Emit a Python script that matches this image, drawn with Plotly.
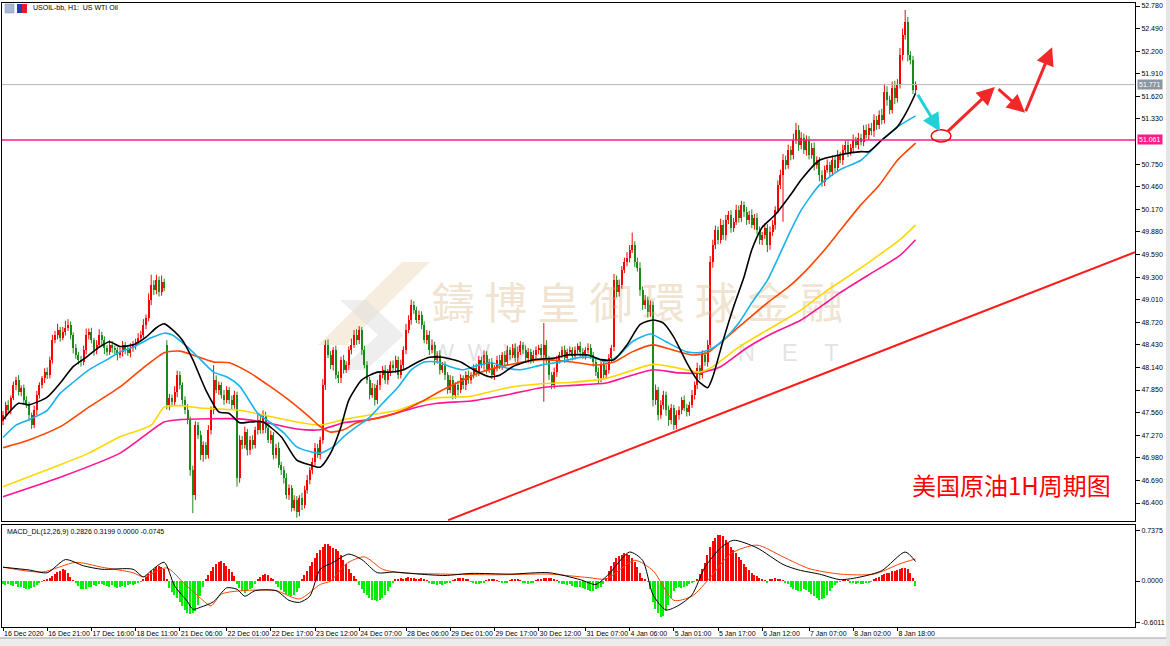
import plotly.graph_objects as go

W, H = 1170, 646
ML, MR, MT, MB = 2, 35, 3, 19
PW = W - ML - MR
PH = H - MT - MB


def px_x(X):
    return (X - ML) / PW


def px_y(Y):
    return (H - MB - Y) / PH


# ---------------- data ----------------
CLOSE = [
    47.53, 47.66, 47.59, 47.75, 47.91, 47.98, 47.82, 47.88, 47.72, 47.66,
    47.53, 47.40, 47.59, 47.79, 47.91, 48.00, 48.08, 48.04, 48.24, 48.49,
    48.56, 48.62, 48.52, 48.60, 48.65, 48.69, 48.56, 48.39, 48.30, 48.24,
    48.21, 48.36, 48.56, 48.60, 48.49, 48.36, 48.43, 48.56, 48.49, 48.39,
    48.34, 48.43, 48.39, 48.36, 48.30, 48.34, 48.43, 48.36, 48.33, 48.39,
    48.43, 48.47, 48.52, 48.56, 48.69, 48.78, 49.01, 49.20, 49.13, 49.26,
    49.11, 49.24, 49.16, 47.66, 47.75, 47.70, 47.82, 48.04, 47.91, 47.72,
    47.59, 47.47, 46.82, 46.50, 47.40, 47.27, 47.02, 47.14, 47.02, 47.34,
    47.59, 47.98, 47.85, 47.91, 47.79, 47.72, 47.85, 47.72, 47.66, 47.79,
    46.72, 47.21, 47.14, 47.31, 47.08, 47.21, 47.14, 47.34, 47.47, 47.34,
    47.53, 47.36, 47.21, 47.27, 47.02, 47.11, 46.89, 46.82, 46.72, 46.50,
    46.59, 46.34, 46.44, 46.28, 46.46, 46.37, 46.57, 46.70, 46.82, 46.93,
    47.11, 47.02, 47.21, 47.91, 48.43, 48.30, 48.17, 48.36, 48.04, 48.00,
    48.24, 48.11, 48.17, 48.36, 48.43, 48.56, 48.49, 48.62, 48.36, 48.17,
    47.98, 47.79, 47.88, 47.72, 47.91, 48.04, 48.11, 47.98, 48.08, 48.17,
    48.13, 48.24, 48.04, 48.17, 48.36, 48.62, 48.75, 48.94, 48.88, 48.75,
    48.81, 48.69, 48.49, 48.56, 48.36, 48.43, 48.24, 48.30, 48.11, 48.17,
    48.04, 47.85, 47.98, 47.79, 47.91, 47.85, 48.00, 47.91, 48.04, 47.98,
    48.04, 48.13, 48.08, 48.24, 48.17, 48.30, 48.11, 48.21, 48.04, 48.13,
    48.24, 48.17, 48.30, 48.21, 48.36, 48.30, 48.39, 48.26, 48.34, 48.43,
    48.36, 48.26, 48.34, 48.24, 48.30, 48.36, 48.39, 48.30, 48.43, 48.24,
    48.04, 47.91, 48.08, 48.24, 48.30, 48.36, 48.26, 48.34, 48.36, 48.29,
    48.36, 48.41, 48.34, 48.30, 48.36, 48.39, 48.30, 48.21, 48.08, 48.00,
    48.17, 48.04, 48.11, 48.26, 48.39, 49.26, 49.11, 49.20, 49.39, 49.49,
    49.55, 49.65, 49.71, 49.49, 49.42, 49.13, 48.94, 49.01, 48.85, 48.94,
    47.72, 47.85, 47.53, 47.66, 47.79, 47.59, 47.47, 47.62, 47.40, 47.53,
    47.59, 47.72, 47.62, 47.57, 47.66, 47.79, 47.91, 48.13, 48.04, 48.30,
    48.21, 48.43, 49.49, 49.71, 49.90, 49.78, 49.97, 49.84, 50.03, 50.10,
    49.93, 50.01, 50.16, 50.06, 50.23, 50.14, 50.03, 50.10, 49.97, 50.06,
    49.90, 49.78, 49.84, 49.93, 49.71, 49.88, 49.97, 50.16, 50.48, 50.61,
    50.80, 50.74, 50.93, 50.87, 51.06, 51.19, 51.00, 51.09, 50.93, 51.06,
    50.87, 50.96, 50.74, 50.80, 50.61, 50.52, 50.68, 50.74, 50.65, 50.80,
    50.70, 50.87, 50.80, 50.93, 51.00, 50.91, 50.96, 51.06, 51.00, 51.09,
    51.04, 51.19, 51.12, 51.22, 51.17, 51.32, 51.25, 51.38, 51.32, 51.68,
    51.57, 51.45, 51.73, 51.60, 51.77, 52.15, 52.41, 52.58, 52.15, 52.09,
    51.70, 51.771,
]
FIRST_OPEN = 47.45
GAP_OPENS = {63: 48.43, 235: 48.40}   # weekend / new-year gap opens

UPPER_WICK_CENTS = [
    5, 4, 6, 3, 5, 4, 6, 3, 4, 5, 4, 3, 6, 5, 4, 3, 5, 6, 4, 7,
    5, 8, 4, 6, 9, 7, 4, 3, 5, 4, 5, 6, 8, 4, 5, 3, 6, 7, 4, 5,
    4, 6, 5, 3, 4, 6, 5, 4, 5, 6, 5, 4, 6, 5, 7, 4, 8, 13, 6, 7,
    5, 8, 4, 6, 5, 4, 8, 6, 5, 4, 5, 8, 4, 6, 5, 4, 6, 5, 4, 6,
    5, 19, 6, 5, 4, 6, 5, 4, 6, 5, 4, 6, 5, 7, 4, 5, 6, 4, 8, 5,
    6, 4, 5, 6, 4, 5, 7, 4, 5, 6, 5, 4, 6, 5, 4, 7, 5, 6, 4, 5,
    6, 5, 4, 8, 6, 7, 5, 4, 6, 5, 4, 6, 5, 5, 8, 6, 7, 5, 4, 6,
    5, 4, 6, 5, 7, 4, 5, 6, 4, 5, 6, 5, 4, 7, 5, 8, 6, 7, 5, 4,
    6, 5, 4, 6, 5, 7, 4, 5, 6, 4, 5, 4, 6, 5, 4, 6, 5, 4, 5, 6,
    4, 5, 6, 5, 4, 6, 5, 4, 5, 4, 5, 6, 4, 5, 6, 4, 5, 6, 7, 5,
    4, 6, 5, 4, 6, 5, 4, 5, 28, 6, 5, 4, 6, 5, 4, 5, 6, 4, 5, 4,
    5, 4, 6, 5, 4, 6, 5, 4, 5, 6, 5, 4, 6, 5, 4, 8, 6, 7, 5, 6,
    7, 6, 16, 5, 6, 7, 5, 6, 4, 6, 5, 7, 4, 6, 5, 4, 6, 5, 4, 6,
    5, 4, 6, 5, 4, 6, 5, 7, 4, 6, 5, 6, 8, 7, 6, 5, 8, 6, 7, 5,
    6, 5, 7, 6, 5, 4, 6, 5, 7, 5, 6, 5, 4, 6, 5, 7, 6, 5, 6, 7,
    8, 6, 7, 5, 8, 9, 6, 7, 5, 6, 5, 6, 7, 5, 4, 6, 5, 7, 4, 6,
    5, 6, 4, 7, 5, 6, 5, 7, 4, 6, 5, 6, 7, 5, 6, 7, 5, 6, 8, 10,
    7, 6, 8, 9, 7, 9, 8, 15, 6, 5, 5, 4,
]
LOWER_WICK_CENTS = [
    5, 6, 4, 5, 3, 6, 4, 5, 6, 4, 8, 5, 4, 6, 5, 4, 6, 5, 4, 5,
    4, 6, 5, 3, 5, 4, 6, 7, 5, 6, 6, 4, 5, 6, 4, 7, 5, 4, 6, 8,
    5, 4, 6, 5, 7, 4, 6, 5, 4, 6, 5, 6, 4, 5, 4, 6, 5, 7, 6, 5,
    6, 5, 4, 6, 7, 5, 4, 6, 5, 6, 5, 6, 7, 23, 6, 5, 7, 9, 6, 5,
    6, 5, 4, 6, 5, 6, 4, 5, 6, 5, 11, 6, 5, 4, 7, 6, 5, 4, 6, 5,
    5, 6, 4, 5, 6, 5, 4, 6, 7, 5, 6, 5, 4, 7, 5, 6, 4, 5, 6, 5,
    5, 4, 6, 5, 6, 4, 5, 7, 5, 6, 6, 5, 4, 6, 5, 4, 6, 5, 6, 4,
    5, 6, 4, 7, 5, 6, 4, 5, 6, 5, 4, 6, 5, 4, 7, 5, 4, 6, 5, 4,
    5, 6, 4, 5, 6, 4, 7, 5, 6, 4, 6, 5, 4, 6, 5, 7, 4, 5, 6, 5,
    5, 4, 6, 5, 4, 6, 5, 4, 5, 6, 4, 5, 6, 4, 5, 6, 4, 5, 6, 4,
    5, 4, 6, 5, 4, 6, 5, 4, 60, 5, 6, 5, 4, 6, 5, 4, 6, 5, 4, 6,
    5, 4, 6, 5, 6, 4, 5, 6, 5, 7, 5, 6, 4, 5, 6, 5, 7, 6, 5, 4,
    5, 6, 4, 6, 5, 7, 6, 5, 7, 6, 8, 6, 7, 5, 6, 7, 8, 6, 6, 5,
    6, 5, 4, 6, 5, 4, 6, 5, 6, 4, 5, 6, 4, 7, 5, 6, 5, 6, 7, 5,
    6, 5, 4, 6, 5, 7, 6, 5, 4, 6, 5, 6, 7, 5, 9, 6, 5, 6, 4, 5,
    60, 6, 5, 7, 6, 5, 8, 6, 5, 7, 6, 5, 7, 5, 8, 6, 5, 4, 6, 5,
    6, 5, 4, 6, 5, 7, 5, 6, 4, 6, 5, 6, 4, 6, 5, 7, 6, 5, 6, 5,
    7, 6, 5, 8, 6, 5, 7, 6, 8, 6, 5, 4,
]

MACD_HIST = [
    -0.05, -0.06, -0.04, -0.06, -0.07, -0.05, -0.08, -0.09, -0.10, -0.12,
    -0.12, -0.10, -0.08, -0.06, -0.03, -0.01, 0.01, 0.03, 0.05, 0.07,
    0.10, 0.13, 0.15, 0.17, 0.16, 0.12, 0.06, 0.01, -0.03, -0.07,
    -0.11, -0.12, -0.11, -0.09, -0.08, -0.06, -0.07, -0.05, -0.04, -0.06,
    -0.07, -0.08, -0.06, -0.09, -0.10, -0.09, -0.07, -0.08, -0.06, -0.05,
    -0.06, -0.04, -0.03, -0.01, 0.02, 0.06, 0.10, 0.15, 0.18, 0.21,
    0.22, 0.20, 0.17, 0.02, -0.10, -0.16, -0.20, -0.25, -0.30, -0.36,
    -0.42, -0.46, -0.48, -0.47, -0.43, -0.35, -0.22, -0.08, 0.03, 0.09,
    0.14, 0.20, 0.25, 0.28, 0.29, 0.26, 0.22, 0.18, 0.13, 0.07,
    -0.05, -0.10, -0.14, -0.17, -0.15, -0.12, -0.10, -0.05, 0.02, 0.06,
    0.09, 0.10, 0.08, 0.05, 0.02, -0.04, -0.09, -0.13, -0.16, -0.19,
    -0.21, -0.22, -0.20, -0.16, -0.10, 0.02, 0.08, 0.15, 0.22, 0.28,
    0.34, 0.40, 0.45, 0.49, 0.53, 0.53, 0.51, 0.48, 0.46, 0.43,
    0.38, 0.31, 0.25, 0.18, 0.12, 0.07, 0.03, -0.06, -0.11, -0.17,
    -0.21, -0.25, -0.27, -0.28, -0.29, -0.27, -0.24, -0.20, -0.15, -0.08,
    -0.02, 0.02, 0.03, 0.04, 0.03, 0.05, 0.06, 0.05, 0.04, 0.03,
    0.02, 0.04, 0.03, 0.01, -0.02, -0.04, -0.05, -0.06, -0.05, -0.06,
    -0.04, -0.03, -0.02, 0.01, 0.03, 0.05, 0.04, 0.05, 0.03, 0.02,
    -0.01, -0.03, -0.04, -0.04, -0.03, -0.02, 0.01, 0.02, 0.03, 0.02,
    0.01, -0.01, -0.02, -0.03, -0.02, 0.01, 0.02, 0.03, 0.02, 0.01,
    -0.02, -0.03, -0.04, -0.03, -0.02, 0.01, 0.02, 0.03, 0.04, 0.05,
    0.05, 0.04, 0.03, 0.01, -0.02, -0.04, -0.05, -0.06, -0.05, -0.07,
    -0.08, -0.09, -0.08, -0.10, -0.12, -0.13, -0.15, -0.14, -0.12, -0.10,
    -0.08, -0.04, 0.05, 0.14, 0.22, 0.28, 0.33, 0.36, 0.38, 0.40,
    0.39, 0.37, 0.33, 0.27, 0.20, 0.12, 0.05, 0.02, -0.01, -0.12,
    -0.30, -0.40, -0.47, -0.52, -0.50, -0.44, -0.35, -0.24, -0.15, -0.10,
    -0.09, -0.10, -0.08, -0.07, -0.05, -0.03, -0.01, 0.03, 0.10, 0.18,
    0.26, 0.38, 0.50, 0.58, 0.63, 0.66, 0.67, 0.65, 0.60, 0.55,
    0.50, 0.45, 0.40, 0.35, 0.30, 0.25, 0.20, 0.16, 0.12, 0.09,
    0.07, 0.05, 0.03, 0.01, -0.02, 0.02, 0.03, 0.04, 0.03, 0.02,
    0.01, -0.02, -0.05, -0.08, -0.11, -0.13, -0.15, -0.14, -0.12, -0.13,
    -0.16, -0.19, -0.22, -0.25, -0.27, -0.26, -0.24, -0.20, -0.15, -0.10,
    -0.06, -0.03, -0.01, 0.01, 0.02, 0.01, -0.02, -0.03, -0.04, -0.03,
    -0.05, -0.04, -0.03, -0.02, -0.01, 0.02, 0.04, 0.06, 0.08, 0.10,
    0.11, 0.12, 0.14, 0.15, 0.16, 0.18, 0.19, 0.19, 0.17, 0.12,
    0.05, -0.0745,
]

MACD_MAIN_X = [0, 10, 17, 24, 31, 38, 50, 54, 57, 62, 66, 71, 73, 76, 81, 86, 90, 93, 97, 105,
               110, 114, 118, 122, 127, 133, 138, 144, 150, 160, 170, 180, 195, 210, 222, 228,
               233, 241, 246, 250, 255, 260, 265, 270, 276, 281, 290, 300, 306, 314, 322, 330,
               338, 347, 351]
MACD_MAIN_Y = [0.20, 0.16, 0.12, 0.31, 0.22, 0.17, 0.17, 0.06, 0.15, 0.27, -0.07, -0.30, -0.41,
               -0.38, -0.30, -0.10, -0.12, -0.22, -0.14, -0.14, -0.28, -0.31, -0.22, 0.17, 0.27,
               0.39, 0.31, 0.12, 0.13, 0.10, 0.08, 0.11, 0.10, 0.12, 0.02, -0.05, 0.10, 0.42,
               0.30, -0.20, -0.42, -0.35, -0.20, 0.20, 0.48, 0.59, 0.48, 0.24, 0.16, 0.10, 0.02,
               0.06, 0.15, 0.42, 0.2826]
MACD_SIG_X = [0, 15, 28, 38, 50, 54, 63, 70, 76, 80, 84, 92, 105, 114, 122, 126, 132, 139, 146,
              153, 170, 190, 210, 225, 232, 243, 250, 258, 265, 272, 280, 290, 300, 310, 322,
              335, 345, 351]
MACD_SIG_Y = [0.20, 0.13, 0.27, 0.20, 0.12, 0.06, 0.19, -0.05, -0.25, -0.36, -0.19, -0.14,
              -0.14, -0.26, -0.05, 0.00, 0.25, 0.35, 0.17, 0.12, 0.10, 0.09, 0.10, 0.05, 0.03,
              0.30, 0.15, -0.28, -0.22, 0.05, 0.40, 0.52, 0.35, 0.18, 0.10, 0.10, 0.25, 0.3199]

MA_BLACK_X = [0, 6, 10, 17, 22, 27, 32, 37, 41, 45, 50, 55, 59, 62, 66, 69, 73, 78, 83, 87, 91,
              95, 100, 107, 113, 118, 122, 126, 130, 133, 138, 144, 149, 154, 159, 164, 169, 176,
              181, 187, 191, 196, 204, 212, 217, 225, 230, 235, 240, 245, 250, 254, 258, 263, 267,
              271, 273, 277, 281, 285, 288, 292, 297, 303, 307, 314, 322, 330, 333, 338, 344, 348,
              351]
MA_BLACK_Y = [47.47, 47.68, 47.66, 47.76, 47.94, 48.15, 48.27, 48.40, 48.47, 48.41, 48.43, 48.53,
              48.65, 48.70, 48.60, 48.49, 48.24, 47.85, 47.57, 47.55, 47.43, 47.44, 47.44, 47.25,
              46.95, 46.89, 46.86, 47.04, 47.38, 47.72, 47.98, 48.08, 48.08, 48.11, 48.20, 48.27,
              48.27, 48.21, 48.11, 48.02, 48.04, 48.15, 48.24, 48.26, 48.30, 48.30, 48.24, 48.24,
              48.43, 48.69, 48.75, 48.71, 48.53, 48.20, 47.98, 47.88, 48.02, 48.49, 48.92, 49.30,
              49.65, 49.94, 50.10, 50.36, 50.55, 50.80, 50.87, 50.91, 50.91, 51.06, 51.23, 51.45,
              51.66]
MA_BLUE_X = [0, 5, 10, 17, 22, 27, 33, 40, 45, 50, 57, 62, 65, 71, 76, 81, 86, 91, 98, 103, 108,
             113, 118, 122, 127, 131, 136, 141, 146, 152, 157, 162, 167, 172, 177, 183, 188, 194,
             199, 207, 214, 222, 228, 232, 237, 242, 249, 255, 263, 268, 273, 278, 283, 288, 294,
             299, 303, 307, 314, 322, 330, 338, 345, 351]
MA_BLUE_Y = [47.24, 47.40, 47.47, 47.59, 47.81, 47.95, 48.11, 48.24, 48.34, 48.40, 48.52, 48.58,
             48.56, 48.40, 48.24, 48.08, 48.02, 47.90, 47.55, 47.43, 47.30, 47.12, 47.06, 47.04,
             47.12, 47.25, 47.38, 47.50, 47.68, 47.89, 48.11, 48.21, 48.21, 48.15, 48.11, 48.17,
             48.20, 48.13, 48.11, 48.17, 48.21, 48.27, 48.26, 48.21, 48.30, 48.47, 48.57, 48.47,
             48.34, 48.33, 48.39, 48.52, 48.71, 48.97, 49.26, 49.61, 49.90, 50.16, 50.48, 50.68,
             50.80, 51.06, 51.25, 51.37]
MA_ORANGE_X = [0, 10, 22, 33, 45, 53, 62, 68, 73, 81, 87, 95, 103, 110, 118, 122, 126, 131, 136,
               141, 146, 154, 162, 169, 177, 183, 194, 207, 219, 228, 235, 242, 250, 258, 265,
               271, 276, 283, 294, 302, 309, 317, 322, 330, 337, 344, 351]
MA_ORANGE_Y = [47.11, 47.21, 47.38, 47.63, 47.89, 48.11, 48.33, 48.35, 48.30, 48.21, 48.20, 48.07,
               47.89, 47.72, 47.50, 47.38, 47.31, 47.34, 47.43, 47.47, 47.50, 47.59, 47.72, 47.85,
               47.98, 48.07, 48.17, 48.24, 48.21, 48.17, 48.21, 48.34, 48.43, 48.36, 48.30, 48.33,
               48.46, 48.66, 48.97, 49.17, 49.39, 49.69, 49.90, 50.23, 50.48, 50.80, 51.02]
MA_YELLOW_X = [0, 22, 33, 45, 57, 62, 68, 76, 91, 100, 113, 122, 131, 141, 152, 159, 167, 180,
               194, 207, 219, 232, 240, 250, 260, 268, 273, 283, 296, 307, 317, 322, 333, 345, 351]
MA_YELLOW_Y = [46.61, 46.89, 47.04, 47.25, 47.40, 47.63, 47.65, 47.62, 47.59, 47.53, 47.44, 47.40,
               47.47, 47.53, 47.59, 47.68, 47.75, 47.77, 47.88, 47.93, 47.95, 48.00, 48.08, 48.18,
               48.13, 48.08, 48.15, 48.40, 48.66, 48.88, 49.13, 49.24, 49.49, 49.78, 49.97]
MA_PINK_X = [0, 22, 45, 62, 68, 91, 100, 113, 122, 131, 141, 152, 159, 167, 180, 194, 207, 219,
             232, 240, 250, 260, 268, 276, 286, 296, 307, 317, 322, 333, 345, 351]
MA_PINK_Y = [46.48, 46.73, 47.04, 47.44, 47.47, 47.48, 47.44, 47.35, 47.34, 47.43, 47.47, 47.56,
             47.63, 47.68, 47.71, 47.79, 47.88, 47.91, 47.94, 48.02, 48.11, 48.07, 48.07, 48.15,
             48.39, 48.58, 48.75, 48.98, 49.10, 49.33, 49.58, 49.78]

LAST_PRICE = 51.771
KEY_LEVEL = 51.061
TREND_X = [171.2, 435.4]
TREND_Y = [46.18, 49.62]

# projected path drawn on the chart: (tail bar, tail price, head bar, head price)
CYAN_ARROW = (351.5, 51.66, 360.4, 51.17)
RED_ARROWS = [(362.7, 51.15, 381.5, 51.74), (382.3, 51.73, 393.1, 51.41), (393.1, 51.41, 403.5, 52.25)]
CIRCLE = (357.0, 51.035, 364.6, 51.19)

TICK_BARS = [0, 17, 34, 51, 68, 86, 103, 120, 137, 155, 172, 189, 206, 224, 241, 258, 275, 292, 310, 327, 344]
TICK_TEXT = ["16 Dec 2020", "16 Dec 21:00", "17 Dec 16:00", "18 Dec 11:00", "21 Dec 06:00",
             "22 Dec 01:00", "22 Dec 17:00", "23 Dec 12:00", "24 Dec 07:00", "28 Dec 06:00",
             "29 Dec 01:00", "29 Dec 17:00", "30 Dec 12:00", "31 Dec 07:00", "4 Jan 06:00",
             "5 Jan 01:00", "5 Jan 17:00", "6 Jan 12:00", "7 Jan 07:00", "8 Jan 02:00", "8 Jan 18:00"]
PRICE_TICKS = [52.78, 52.49, 52.20, 51.91, 51.62, 51.33, 50.75, 50.46, 50.17, 49.88, 49.59, 49.30,
               49.01, 48.72, 48.43, 48.14, 47.85, 47.56, 47.27, 46.98, 46.69, 46.40]
MACD_TICKS = [0.7375, 0.0, -0.6011]

# ---------------- derived OHLC ----------------
n = len(CLOSE)
idx = list(range(n))
OPEN = []
for i in range(n):
    if i == 0:
        OPEN.append(FIRST_OPEN)
    elif i in GAP_OPENS:
        OPEN.append(GAP_OPENS[i])
    else:
        OPEN.append(CLOSE[i - 1])
HIGH = [max(o, c) + u / 100 for o, c, u in zip(OPEN, CLOSE, UPPER_WICK_CENTS)]
LOW = [min(o, c) - l / 100 for o, c, l in zip(OPEN, CLOSE, LOWER_WICK_CENTS)]

UP_C = "#ff0000"
DN_C = "#1a8a1a"

fig = go.Figure()

# watermark (behind everything)
fig.add_trace(go.Scatter(x=[244], y=[48.90], mode="text", text=["鑄 博 皇 御 環 球 金 融"],
                         textfont=dict(family="Noto Sans CJK TC", size=43, color="rgba(228,205,170,0.55)"),
                         hoverinfo="skip", showlegend=False))
fig.add_trace(go.Scatter(x=[183, 302], y=[48.30, 48.30], mode="text", text=["W  W  W", "N    E    T"],
                         textfont=dict(family="Liberation Sans", size=24, color="rgba(200,200,200,0.5)"),
                         hoverinfo="skip", showlegend=False))

# candles
for up, col in ((True, UP_C), (False, DN_C)):
    sel = [i for i in idx if (CLOSE[i] >= OPEN[i]) == up]
    wx, wy = [], []
    for i in sel:
        wx += [i, i, None]
        wy += [LOW[i], HIGH[i], None]
    fig.add_trace(go.Scatter(x=wx, y=wy, mode="lines", line=dict(color=col, width=1),
                             hoverinfo="skip", showlegend=False))
    fig.add_trace(go.Bar(x=sel, y=[max(abs(CLOSE[i] - OPEN[i]), 0.012) for i in sel],
                         base=[min(CLOSE[i], OPEN[i]) for i in sel], width=0.78,
                         marker=dict(color=col, line=dict(width=0)), showlegend=False,
                         hoverinfo="skip"))

# moving averages
for xs, ys, col in ((MA_PINK_X, MA_PINK_Y, "#ff1493"), (MA_YELLOW_X, MA_YELLOW_Y, "#ffd700"),
                    (MA_ORANGE_X, MA_ORANGE_Y, "#ff4500"), (MA_BLUE_X, MA_BLUE_Y, "#1ab2ee"),
                    (MA_BLACK_X, MA_BLACK_Y, "#000000")):
    fig.add_trace(go.Scatter(x=xs, y=ys, mode="lines", line=dict(color=col, width=1.6, shape="spline",
                                                                 smoothing=0.6),
                             hoverinfo="skip", showlegend=False))

# horizontal levels and trendline
fig.add_trace(go.Scatter(x=[-5, 440], y=[LAST_PRICE, LAST_PRICE], mode="lines",
                         line=dict(color="#b8b8b8", width=1), showlegend=False, hoverinfo="skip"))
fig.add_trace(go.Scatter(x=[-5, 440], y=[KEY_LEVEL, KEY_LEVEL], mode="lines",
                         line=dict(color="#ff1a8c", width=1.5), showlegend=False, hoverinfo="skip"))
fig.add_trace(go.Scatter(x=TREND_X, y=TREND_Y, mode="lines", line=dict(color="#ff1a1a", width=2),
                         showlegend=False, hoverinfo="skip"))

# MACD panel
fig.add_trace(go.Bar(x=idx, y=MACD_HIST, width=0.55, xaxis="x2", yaxis="y2",
                     marker=dict(color=["#ff0000" if v >= 0 else "#00ee00" for v in MACD_HIST],
                                 line=dict(width=0)),
                     showlegend=False, hoverinfo="skip"))
fig.add_trace(go.Scatter(x=MACD_SIG_X, y=MACD_SIG_Y, xaxis="x2", yaxis="y2", mode="lines",
                         line=dict(color="#ff4500", width=1, shape="spline", smoothing=0.7),
                         showlegend=False, hoverinfo="skip"))
fig.add_trace(go.Scatter(x=MACD_MAIN_X, y=MACD_MAIN_Y, xaxis="x2", yaxis="y2", mode="lines",
                         line=dict(color="#000000", width=1, shape="spline", smoothing=0.7),
                         showlegend=False, hoverinfo="skip"))

XR = [(ML - 3) / 2.6, (W - MR - 3) / 2.6]
P_TOP = 52.857 - 0.012837 * MT
P_BOT = 52.857 - 0.012837 * 521
TICKFONT = dict(family="Liberation Sans", size=7, color="#000000")

shapes = [
    dict(type="circle", xref="x", yref="y", x0=CIRCLE[0], x1=CIRCLE[2], y0=CIRCLE[1], y1=CIRCLE[3],
         line=dict(color="#ff0000", width=1.5)),
    # logo pieces of the watermark
    dict(type="path", xref="paper", yref="paper", layer="below", line=dict(width=0),
         fillcolor="rgba(240,222,196,0.55)",
         path=f"M {px_x(318)},{px_y(345)} L {px_x(346)},{px_y(345)} L {px_x(430)},{px_y(262)} "
              f"L {px_x(402)},{px_y(262)} Z"),
    dict(type="path", xref="paper", yref="paper", layer="below", line=dict(width=0),
         fillcolor="rgba(222,222,222,0.5)",
         path=f"M {px_x(340)},{px_y(300)} L {px_x(366)},{px_y(300)} L {px_x(404)},{px_y(335)} "
              f"L {px_x(366)},{px_y(370)} L {px_x(340)},{px_y(370)} L {px_x(378)},{px_y(335)} Z"),
    # title icons
    dict(type="rect", xref="paper", yref="paper", x0=px_x(5), x1=px_x(14), y0=px_y(13), y1=px_y(4),
         fillcolor="#aab8d8", line=dict(color="#8090b0", width=0.5)),
    dict(type="rect", xref="paper", yref="paper", x0=px_x(17), x1=px_x(22), y0=px_y(13), y1=px_y(4),
         fillcolor="#2040c0", line=dict(width=0)),
    dict(type="rect", xref="paper", yref="paper", x0=px_x(22), x1=px_x(27), y0=px_y(13), y1=px_y(4),
         fillcolor="#e02020", line=dict(width=0)),
    # bottom tab bar and right strip
    dict(type="rect", xref="paper", yref="paper", x0=px_x(0), x1=px_x(1170), y0=px_y(646), y1=px_y(638),
         fillcolor="#ececec", line=dict(width=0)),
    dict(type="line", xref="paper", yref="paper", x0=px_x(0), x1=px_x(1170), y0=px_y(638), y1=px_y(638),
         line=dict(color="#a0a0a0", width=1)),
    dict(type="rect", xref="paper", yref="paper", x0=px_x(1166), x1=px_x(1170), y0=px_y(646), y1=px_y(0),
         fillcolor="#e6e6e6", line=dict(width=0)),
]

annotations = [
    dict(xref="paper", yref="paper", x=px_x(31), y=px_y(8), xanchor="left", yanchor="middle",
         text="USOIL-bb, H1:&nbsp; US WTI Oil", showarrow=False, font=TICKFONT),
    dict(xref="paper", yref="paper", x=px_x(5), y=px_y(532), xanchor="left", yanchor="middle",
         text="MACD_DL(12,26,9) 0.2826 0.3199 0.0000 -0.0745", showarrow=False, font=TICKFONT),
    dict(xref="paper", yref="y", x=1, xshift=2, y=LAST_PRICE, xanchor="left", yanchor="middle",
         text=f"{LAST_PRICE:.3f}", showarrow=False, bgcolor="#8c96a2", borderpad=1,
         font=dict(family="Liberation Sans", size=7, color="#ffffff")),
    dict(xref="paper", yref="y", x=1, xshift=2, y=KEY_LEVEL, xanchor="left", yanchor="middle",
         text=f"{KEY_LEVEL:.3f}", showarrow=False, bgcolor="#ff1a8c", borderpad=1,
         font=dict(family="Liberation Sans", size=7, color="#ffffff")),
    dict(xref="paper", yref="paper", x=px_x(1011), y=px_y(484), xanchor="center", yanchor="middle",
         text="美国原油1H周期图", showarrow=False,
         font=dict(family="Noto Sans CJK SC", size=24, color="#ff0000")),
    dict(xref="x", yref="y", axref="x", ayref="y", x=CYAN_ARROW[2], y=CYAN_ARROW[3],
         ax=CYAN_ARROW[0], ay=CYAN_ARROW[1], text="", showarrow=True, arrowhead=2,
         arrowsize=1.2, arrowwidth=3, arrowcolor="#22d0d8"),
]
for tx, ty, hx, hy in RED_ARROWS:
    annotations.append(dict(xref="x", yref="y", axref="x", ayref="y", x=hx, y=hy, ax=tx, ay=ty,
                            text="", showarrow=True, arrowhead=2, arrowsize=1.2, arrowwidth=3,
                            arrowcolor="#f02828"))

fig.update_layout(
    width=W, height=H, margin=dict(l=ML, r=MR, t=MT, b=MB, autoexpand=False),
    paper_bgcolor="#ffffff", plot_bgcolor="#ffffff", barmode="overlay", bargap=0,
    showlegend=False, hovermode=False,
    xaxis=dict(domain=[0, 1], range=XR, anchor="y", showticklabels=False, showgrid=False,
               zeroline=False, showline=True, mirror=True, linecolor="#000000", linewidth=1,
               ticks="", automargin=False),
    yaxis=dict(domain=[px_y(521), 1], range=[P_BOT, P_TOP], anchor="x", side="right",
               tickvals=PRICE_TICKS, ticktext=[f"{v:.3f}" for v in PRICE_TICKS], ticks="outside",
               ticklen=4, tickcolor="#000000", tickfont=TICKFONT, showgrid=False, zeroline=False,
               showline=True, mirror=True, linecolor="#000000", linewidth=1, automargin=False),
    xaxis2=dict(domain=[0, 1], range=XR, anchor="y2", matches="x", tickvals=TICK_BARS,
                ticktext=TICK_TEXT, ticks="outside", ticklen=3, tickcolor="#000000",
                tickfont=TICKFONT, ticklabelposition="outside right", tickangle=0,
                showgrid=False, zeroline=False, showline=True, mirror=True,
                linecolor="#000000", linewidth=1, automargin=False),
    yaxis2=dict(domain=[0, px_y(525)], range=[-46 / 69, 56 / 69], anchor="x2", side="right",
                tickvals=MACD_TICKS, ticktext=["0.7375", "0.0000", "-0.6011"], ticks="outside",
                ticklen=4, tickcolor="#000000", tickfont=TICKFONT, showgrid=False, zeroline=False,
                showline=True, mirror=True, linecolor="#000000", linewidth=1, automargin=False),
    shapes=shapes, annotations=annotations,
)

fig.write_html("out.html")
